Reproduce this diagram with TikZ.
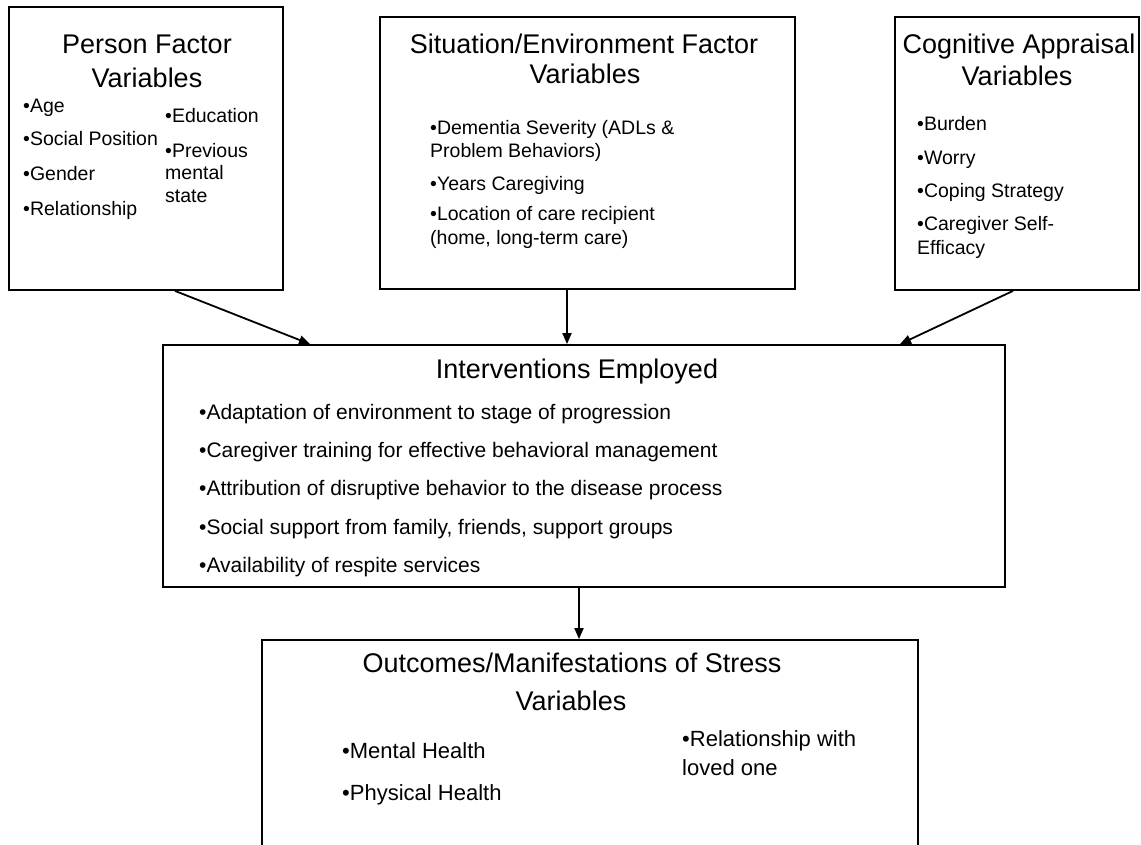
\documentclass[tikz,border=0pt]{standalone}
\usepackage{fontspec}
\setmainfont{Liberation Sans}
\usetikzlibrary{arrows.meta}
\tikzset{
  box/.style={draw=black, line width=1.8pt, inner sep=0pt},
  arr/.style={draw=black, line width=1.8pt, -{Triangle[length=11pt,width=9pt]}},
  ttl/.style={anchor=base, inner sep=0pt, font=\fontsize{27}{30}\selectfont},
  itma/.style={anchor=base west, inner sep=0pt, font=\fontsize{19.5}{22}\selectfont},
  itmb/.style={anchor=base west, inner sep=0pt, font=\fontsize{21}{24}\selectfont},
  itmc/.style={anchor=base west, inner sep=0pt, font=\fontsize{22}{25}\selectfont},
}
\begin{document}
\begin{tikzpicture}[x=1pt,y=-1pt]
\useasboundingbox (0,0) rectangle (1141,844);
\clip (0,0) rectangle (1141,844);
\fill[white] (0,0) rectangle (1141,844);

% boxes
\node[box, minimum width=274pt, minimum height=283pt] (person) at (146,148.5) {};
\node[box, minimum width=415pt, minimum height=272pt] (situation) at (587.5,153) {};
\node[box, minimum width=244pt, minimum height=273pt] (cognitive) at (1017,153.5) {};
\node[box, minimum width=842pt, minimum height=242pt] (interv) at (584,466) {};
\node[box, minimum width=656pt, minimum height=240pt] (outcomes) at (590,760) {};

% Person factor
\node[ttl] (pt1) at (147,53) {Person Factor};
\node[ttl] (pt2) at (147,87) {Variables};
\node[itma] (pa1) at (23,112) {\textbullet Age};
\node[itma] (pa2) at (23,145) {\textbullet Social Position};
\node[itma] (pa3) at (23,180) {\textbullet Gender};
\node[itma] (pa4) at (23,215) {\textbullet Relationship};
\node[itma] (pb1) at (165,122) {\textbullet Education};
\node[itma] (pb2) at (165,157) {\textbullet Previous};
\node[itma] (pb3) at (165,179) {mental};
\node[itma] (pb4) at (165,202) {state};

% Situation / environment
\node[ttl] (st1) at (584,53) {Situation/Environment Factor};
\node[ttl] (st2) at (585,83) {Variables};
\node[itma] (sa1) at (430,134) {\textbullet Dementia Severity (ADLs \&};
\node[itma] (sa2) at (430,157) {Problem Behaviors)};
\node[itma] (sa3) at (430,190) {\textbullet Years Caregiving};
\node[itma] (sa4) at (430,220) {\textbullet Location of care recipient};
\node[itma] (sa5) at (430,244) {(home, long-term care)};

% Cognitive appraisal
\node[ttl] (ct1) at (1019,53) {Cognitive Appraisal};
\node[ttl] (ct2) at (1017,85) {Variables};
\node[itma] (ca1) at (917,130) {\textbullet Burden};
\node[itma] (ca2) at (917,164) {\textbullet Worry};
\node[itma] (ca3) at (917,197) {\textbullet Coping Strategy};
\node[itma] (ca4) at (917,230) {\textbullet Caregiver Self-};
\node[itma] (ca5) at (917,254) {Efficacy};

% Interventions
\node[ttl] (it1) at (577,378) {Interventions Employed};
\node[itmb] (ia1) at (199,419.5) {\textbullet Adaptation of environment to stage of progression};
\node[itmb] (ia2) at (199,457.5) {\textbullet Caregiver training for effective behavioral management};
\node[itmb] (ia3) at (199,495.5) {\textbullet Attribution of disruptive behavior to the disease process};
\node[itmb] (ia4) at (199,534.5) {\textbullet Social support from family, friends, support groups};
\node[itmb] (ia5) at (199,572.5) {\textbullet Availability of respite services};

% Outcomes
\node[ttl] (ot1) at (572,672) {Outcomes/Manifestations of Stress};
\node[ttl] (ot2) at (571,710) {Variables};
\node[itmc] (oa1) at (342,758) {\textbullet Mental Health};
\node[itmc] (oa2) at (342,800) {\textbullet Physical Health};
\node[itmc] (ob1) at (682,746) {\textbullet Relationship with};
\node[itmc] (ob2) at (682,775) {loved one};

% connectors
\draw[arr] ([xshift=29pt]person.south) -- ([xshift=-274pt]interv.north);
\draw[arr] ([xshift=-20.5pt]situation.south) -- ([xshift=-17pt]interv.north);
\draw[arr] ([xshift=-4pt]cognitive.south) -- ([xshift=316pt]interv.north);
\draw[arr] ([xshift=-5pt]interv.south) -- ([xshift=-11pt]outcomes.north);
\end{tikzpicture}
\end{document}
